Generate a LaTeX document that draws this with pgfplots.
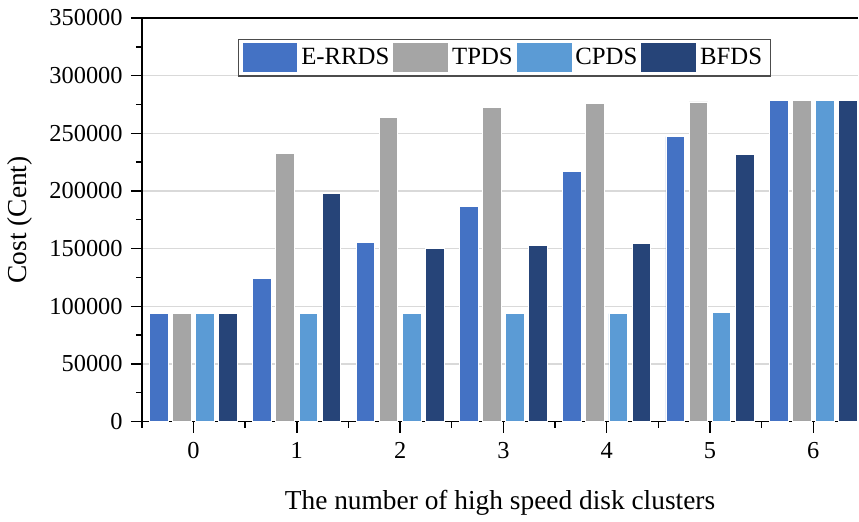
\documentclass[border=0pt]{standalone}
\usepackage{fontspec}
\setmainfont{Liberation Serif}
\usepackage{pgfplots}
\pgfplotsset{compat=1.18}
\definecolor{cErrds}{HTML}{4472C4}
\definecolor{cTpds}{HTML}{A5A5A5}
\definecolor{cCpds}{HTML}{5B9BD5}
\definecolor{cBfds}{HTML}{264478}
\pgfplotsset{
  mybar/.style={fill=#1, draw=white, line width=0.4pt,
    legend image code/.code={\fill[#1] (0pt,-7pt) rectangle (27pt,7pt);}},
}
\begin{document}
\begin{tikzpicture}
\begin{axis}[
  scale only axis, width=358.5pt, height=202pt,
  xmin=-0.5, xmax=6.435, ymin=0, ymax=350000,
  ybar, bar width=0.181,
  axis lines*=left, axis line style={-, line width=0.8pt},
  xtick={0,...,6}, minor xtick={-0.5,0.5,1.5,2.5,3.5,4.5,5.5},
  ytick={0,50000,...,350000}, minor ytick={25000,75000,...,325000},
  tick align=outside, major tick length=5.5pt, minor tick length=3pt,
  tick style={black, line width=0.7pt},
  ymajorgrids, grid style={gray!30, line width=0.6pt},
  scaled y ticks=false,
  yticklabel style={/pgf/number format/fixed, /pgf/number format/1000 sep={}, xshift=-0.6pt},
  xticklabel style={yshift=-1.5pt},
  /pgf/number format/assume math mode=true,
  tick label style={font=\fontsize{12.2}{14}\selectfont},
  label style={font=\fontsize{13.7}{16}\selectfont},
  xlabel={The number of high speed disk clusters},
  ylabel={Cost (Cent)},
  xlabel style={yshift=-8.5pt},
  ylabel style={yshift=1.5pt},
  legend columns=4,
  legend style={at={(0.506,0.902)}, anchor=center, draw=black!70, line width=0.6pt,
    font=\fontsize{12.4}{14}\selectfont, inner sep=2pt,
    /tikz/every even column/.append style={column sep=0pt}},
  after end axis/.code={
    \draw[line width=0.8pt] (rel axis cs:0,1) -- (rel axis cs:1,1);
    \path (rel axis cs:0,1) ++(-71pt,9pt);
    \path (rel axis cs:1,0) ++(0pt,-46.5pt);
  },
]
\addplot[mybar=cErrds, bar shift=-0.336] coordinates {
  (0,93600) (1,124500) (2,155400) (3,186300) (4,217200) (5,247200) (6,278400)};
\addlegendentry{E-RRDS}
\addplot[mybar=cTpds, bar shift=-0.112] coordinates {
  (0,93600) (1,232800) (2,264000) (3,272300) (4,275800) (5,277200) (6,278400)};
\addlegendentry{TPDS}
\addplot[mybar=cCpds, bar shift=0.112] coordinates {
  (0,93600) (1,93600) (2,93600) (3,93600) (4,93600) (5,94300) (6,278400)};
\addlegendentry{CPDS}
\addplot[mybar=cBfds, bar shift=0.336] coordinates {
  (0,93600) (1,198100) (2,150500) (3,153100) (4,154500) (5,231300) (6,278400)};
\addlegendentry{BFDS}
\end{axis}
\end{tikzpicture}
\end{document}
